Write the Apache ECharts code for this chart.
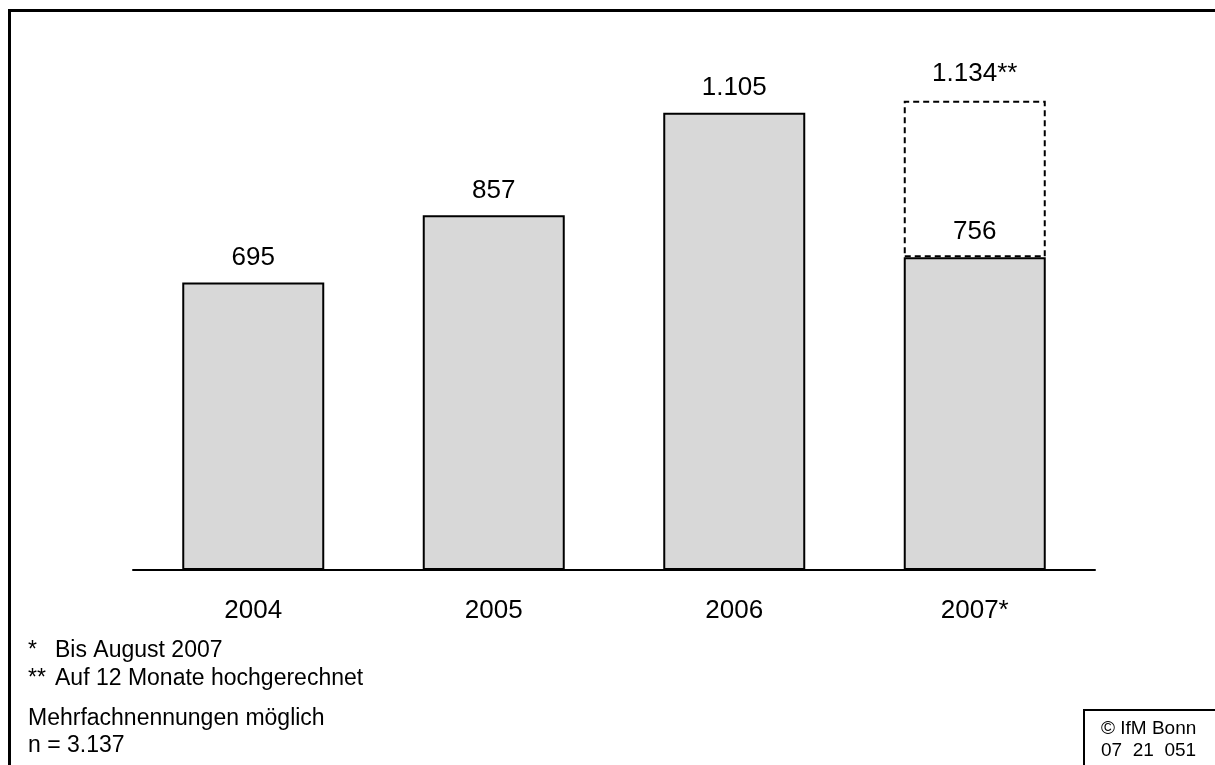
<!DOCTYPE html>
<html>
<head>
<meta charset="utf-8">
<script src="https://cdn.jsdelivr.net/npm/echarts@6/dist/echarts.min.js"></script>
<style>
html,body{margin:0;padding:0;background:#fff;}
#c{width:1215px;height:765px;}
</style>
</head>
<body>
<div id="c"></div>
<script>
const categories = ['2004', '2005', '2006', '2007*'];
const actualValues = [695, 857, 1105, 756];
const projectedValues = [null, null, null, 1134];
const projectedSuffix = '**';
const footnotes = ['*', 'Bis August 2007', '**', 'Auf 12 Monate hochgerechnet'];
const notes = ['Mehrfachnennungen möglich', 'n = 3.137'];
const sourceLines = ['© IfM Bonn', '07  21  051'];

function fmt(v) {
  return String(v).replace(/\B(?=(\d{3})+(?!\d))/g, '.');
}

const extraValues = projectedValues.map((p, i) => p == null ? null : p - actualValues[i]);

const font = '"Liberation Sans", Arial, sans-serif';
function txt(x, y, s, size) {
  return { type: 'text', x: x, y: y, style: { text: s, font: size + 'px ' + font, fill: '#000', textVerticalAlign: 'middle' } };
}
const chart = echarts.init(document.getElementById('c'));
chart.setOption({
  animation: false,
  backgroundColor: '#fff',
  grid: { left: 133, right: 120, top: 32, bottom: 195 },
  xAxis: {
    type: 'category',
    data: categories,
    axisLine: { lineStyle: { color: '#000', width: 2 } },
    axisTick: { show: false },
    axisLabel: { color: '#000', fontSize: 26, fontFamily: font, margin: 28 }
  },
  yAxis: {
    type: 'value', min: 0, max: 1300,
    show: false, splitLine: { show: false }
  },
  series: [
    {
      type: 'bar', stack: 's', barWidth: 142,
      data: actualValues,
      itemStyle: { color: '#d8d8d8', borderColor: '#000', borderWidth: 2 },
      label: {
        show: true, position: 'top', distance: 12, color: '#000',
        fontSize: 26, fontFamily: font,
        formatter: p => fmt(p.value)
      }
    },
    {
      type: 'bar', stack: 's', barWidth: 142,
      data: extraValues,
      itemStyle: { color: 'rgba(0,0,0,0)', borderColor: '#000', borderWidth: 2, borderType: [6, 4] },
      label: {
        show: true, position: 'top', distance: 14, color: '#000',
        fontSize: 26, fontFamily: font,
        formatter: p => fmt(projectedValues[p.dataIndex]) + projectedSuffix
      }
    }
  ],
  graphic: [
    { type: 'line', shape: { x1: 9.5, y1: 10.5, x2: 1215, y2: 10.5 }, style: { stroke: '#000', lineWidth: 3 } },
    { type: 'line', shape: { x1: 9.5, y1: 9, x2: 9.5, y2: 765 }, style: { stroke: '#000', lineWidth: 3 } },
    txt(28, 651, footnotes[0], 23),
    txt(55, 651, footnotes[1], 23),
    txt(28, 679, footnotes[2], 23),
    txt(55, 679, footnotes[3], 23),
    txt(28, 719, notes[0], 23),
    txt(28, 746, notes[1], 23),
    { type: 'polyline', shape: { points: [[1084, 765], [1084, 710], [1215, 710]] }, style: { stroke: '#000', lineWidth: 2, fill: null } },
    txt(1101, 729, sourceLines[0], 19),
    txt(1101, 751, sourceLines[1], 19)
  ]
});
</script>
</body>
</html>
